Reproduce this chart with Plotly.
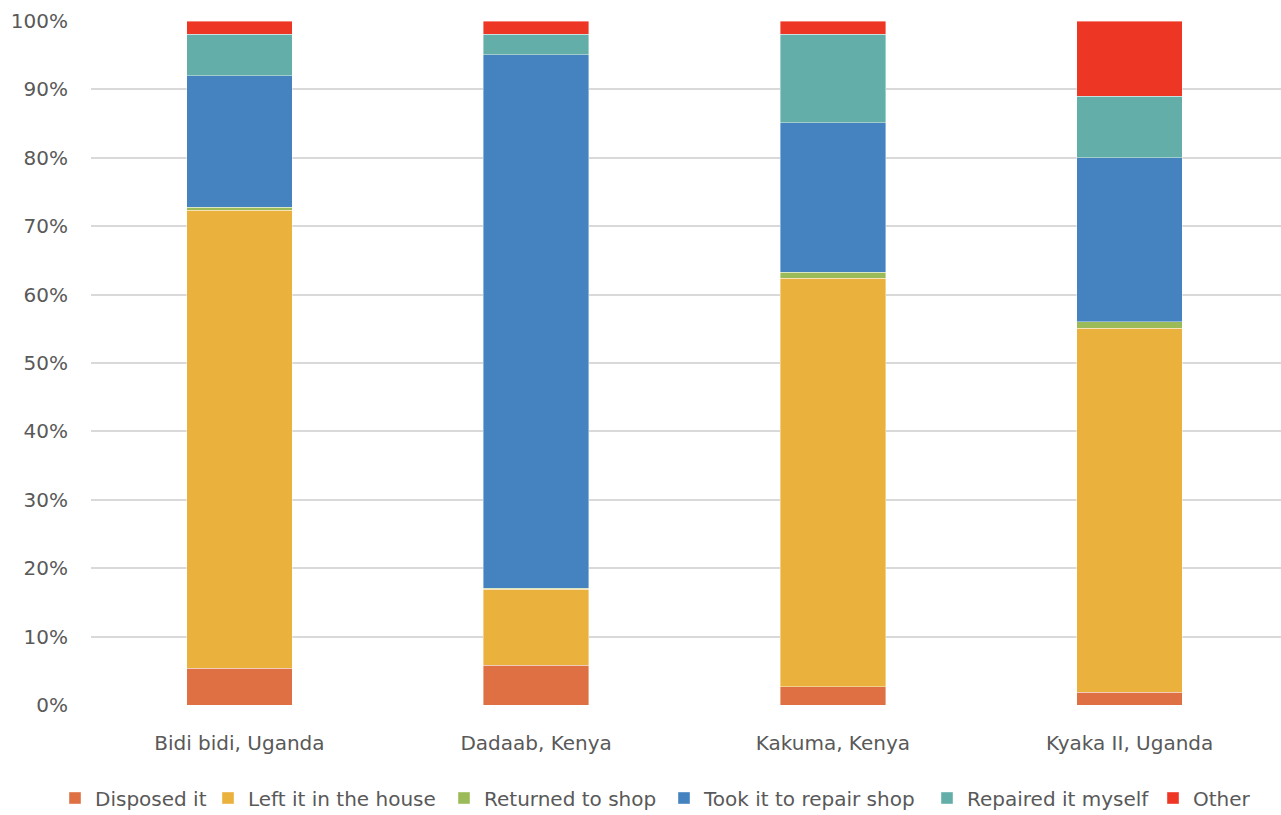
import plotly.graph_objects as go

categories = ["Bidi bidi, Uganda", "Dadaab, Kenya", "Kakuma, Kenya", "Kyaka II, Uganda"]

disposed = [5.4, 5.8, 2.7, 1.9]
left_in_house = [66.9, 11.1, 59.7, 53.2]
returned_to_shop = [0.5, 0.2, 0.9, 0.9]
took_to_repair = [19.2, 78.0, 21.8, 24.0]
repaired_myself = [6.1, 3.0, 13.0, 9.0]
other = [1.9, 1.9, 1.9, 11.0]

series_names = ["Disposed it", "Left it in the house", "Returned to shop",
                "Took it to repair shop", "Repaired it myself", "Other"]
series_values = [disposed, left_in_house, returned_to_shop, took_to_repair, repaired_myself, other]
colors = ["#DF7043", "#EBB13D", "#9BBB58", "#4482C0", "#63AEA9", "#EE3625"]

# legend symbol centres (px) as laid out in the reference
legend_symbol_px = [75, 228, 464, 684, 947, 1173]
legend_ids = ["legend2", "legend3", "legend4", "legend5", "legend6", "legend7"]

font_family = "DejaVu Sans, Verdana, sans-serif"
text_color = "#595959"
W, H = 1281, 815

fig = go.Figure()
for name, vals, col, lid in zip(series_names, series_values, colors, legend_ids):
    fig.add_trace(go.Bar(
        name=name, x=categories, y=vals,
        marker=dict(color=col, line=dict(color="rgba(255,255,255,0.5)", width=0.8)),
        width=0.355, legend=lid, showlegend=True,
    ))

layout_legends = {}
for lid, px in zip(legend_ids, legend_symbol_px):
    layout_legends[lid] = dict(
        orientation="h", x=(px - 20) / W, xanchor="left", xref="container",
        y=(H - 798) / H, yref="container", yanchor="middle",
        font=dict(family=font_family, size=20, color=text_color),
        itemwidth=30, bgcolor="rgba(0,0,0,0)", borderwidth=0,
    )

fig.update_layout(
    barmode="stack",
    width=W, height=H,
    margin=dict(l=91, r=0, t=21, b=110),
    paper_bgcolor="white", plot_bgcolor="white",
    font=dict(family=font_family, size=20, color=text_color),
    xaxis=dict(showgrid=False, showline=False, ticks="", ticklabelstandoff=24,
               tickfont=dict(family=font_family, size=20, color=text_color),
               range=[-0.5, 3.51]),
    yaxis=dict(range=[0, 100], dtick=10, ticksuffix="%", showgrid=True, gridcolor="#D9D9D9",
               gridwidth=1.5, zeroline=False, showline=False, ticks="", ticklabelstandoff=22,
               tickfont=dict(family=font_family, size=20, color=text_color)),
    bargap=0.645,
    **layout_legends,
)

fig.write_html("out.html")
